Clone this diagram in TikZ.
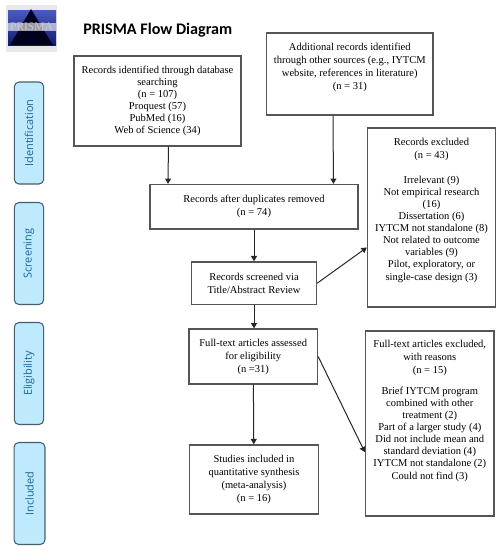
\documentclass[tikz,border=0pt]{standalone}
\usepackage{fontspec}
\setmainfont{Liberation Serif}
\newfontfamily\titlefont{Carlito}
\newfontfamily\phasefont{Open Sans}
\usetikzlibrary{arrows.meta}
\definecolor{phasefill}{HTML}{BFE9FC}
\definecolor{phaseedge}{HTML}{44606E}
\definecolor{phasetext}{HTML}{1A66A0}
\definecolor{boxedge}{HTML}{555555}
\definecolor{logotop}{HTML}{4A5CC0}
\definecolor{logobottom}{HTML}{141A70}

\begin{document}
\begin{tikzpicture}[x=0.75pt, y=-0.75pt,
	box/.style={draw=boxedge, line width=1pt, align=center, inner sep=0pt, font=\fontsize{7.9}{9.1}\selectfont},
	loose/.style={box, font=\fontsize{7.9}{9.75}\selectfont},
	phase/.style={draw=phaseedge, fill=phasefill, line width=0.8pt, rounded corners=3.5pt, rotate=90, minimum height=22pt, minimum width=76.5pt, inner sep=0pt, text=phasetext, font=\phasefont\fontsize{8.2}{10}\selectfont},
	flow/.style={draw=black!85, line width=0.75pt, -{Triangle[length=4pt, width=4.5pt]}}]

	\useasboundingbox (0,0) rectangle (501,550);

	% logo
	\fill[black!9] (6,5) rectangle (57,52);
	\shade[top color=logotop, bottom color=logobottom] (8,10) rectangle (56,45);
	\fill[black!88!blue] (31,9) -- (53,45) -- (10,45) -- cycle;
	\fill[white, opacity=.6] (8,23) rectangle (56,31);
	\node[inner sep=0pt, text=white!80!black, font=\fontsize{8.6}{9}\selectfont] (logo) at (31.5,27) {PRISMA};
	\node[anchor=west, inner sep=0pt, font=\titlefont\bfseries\fontsize{12.1}{13}\selectfont] (title) at (83,30.5) {PRISMA Flow Diagram};

	% phases
	\node[phase] (identification) at (29,133) {Identification};
	\node[phase] (screening) at (29,253.5) {Screening};
	\node[phase] (eligibility) at (29,373.5) {Eligibility};
	\node[phase, minimum height=23.2pt] (included) at (29.5,493.5) {Included};

	% flow boxes
	\node[box, minimum width=125.2pt, minimum height=67.5pt] (identified) at (157.5,101)
		{Records identified through database\\searching\\(n = 107)\\Proquest (57)\\PubMed (16)\\Web of Science (34)};
	\node[loose, minimum width=124.9pt, minimum height=61.5pt] (additional) at (349.8,74)
		{Additional records identified\\through other sources (e.g., IYTCM\\website, references in literature)\\(n = 31)\\[1.8pt]~};
	\node[loose, minimum width=156pt, minimum height=33.4pt] (duplicates) at (254,206.8)
		{Records after duplicates removed\\(n = 74)\\[-7pt]~};
	\node[loose, minimum width=93.8pt, minimum height=31.9pt] (screened) at (254,283.2)
		{Records screened via\\Title/Abstract Review};
	\node[loose, minimum width=96.4pt, minimum height=41.2pt] (fulltext) at (253.2,356.5)
		{Full-text articles assessed\\for eligibility\\(n =31)};
	\node[loose, minimum width=96.8pt, minimum height=51.8pt] (studies) at (254,479.5)
		{Studies included in\\quantitative synthesis\\(meta-analysis)\\(n = 16)};
	\node[box, minimum width=96pt, minimum height=134.2pt] (excluded) at (431.5,217.5)
		{Records excluded\\[0.65pt](n = 43)\\[9.65pt]Irrelevant (9)\\Not empirical research\\(16)\\Dissertation (6)\\IYTCM not standalone (8)\\Not related to outcome\\variables (9)\\Pilot, exploratory, or\\single-case design (3)\\[3.8pt]~};
	\node[box, minimum width=96.4pt, minimum height=138.8pt] (reasons) at (429.8,423.5)
		{Full-text articles excluded,\\[0.65pt]with reasons\\[0.65pt](n = 15)\\[6.65pt]Brief IYTCM program\\combined with other\\treatment (2)\\Part of a larger study (4)\\Did not include mean and\\standard deviation (4)\\IYTCM not standalone (2)\\Could not find (3)\\[11.9pt]~};

	% connectors
	\draw[flow] ([xshift=8.2pt]identified.south) -- ([xshift=-64.5pt]duplicates.north);
	\draw[flow] ([xshift=-12.6pt]additional.south) -- ([xshift=59.6pt]duplicates.north);
	\draw[flow] (duplicates) -- (screened);
	\draw[flow] (screened) -- (fulltext.north -| screened.south);
	\draw[flow] (fulltext) -- (studies);
	\draw[flow] (screened.east) -- ([yshift=-22.5pt]excluded.west);
	\draw[flow] (fulltext.east) -- ([yshift=-21.5pt]reasons.west);
\end{tikzpicture}
\end{document}
